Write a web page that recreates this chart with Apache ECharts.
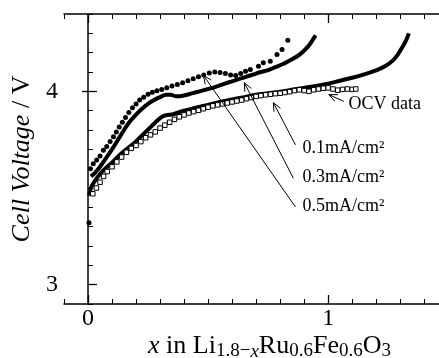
<!DOCTYPE html>
<html>
<head>
<meta charset="utf-8">
<script src="https://cdn.jsdelivr.net/npm/echarts@6/dist/echarts.min.js"></script>
<style>
  html, body { margin: 0; padding: 0; background: #fff; }
  #chart { width: 439px; height: 358px; }
</style>
</head>
<body>
<div id="chart"></div>
<script>
// values: [x in Li(1.8-x)Ru0.6Fe0.6O3, cell voltage / V]
const rate05 = [
  [0.004, 3.32], [0.010, 3.60], [0.022, 3.625], [0.036, 3.645], [0.050, 3.665],
  [0.064, 3.695], [0.078, 3.715], [0.092, 3.74], [0.106, 3.765], [0.118, 3.79],
  [0.130, 3.815], [0.143, 3.84], [0.156, 3.865], [0.170, 3.89], [0.185, 3.915],
  [0.200, 3.935], [0.215, 3.955], [0.232, 3.97], [0.250, 3.985], [0.268, 3.995],
  [0.287, 4.003], [0.307, 4.01], [0.328, 4.018], [0.350, 4.027], [0.372, 4.035],
  [0.394, 4.045], [0.416, 4.055], [0.438, 4.065], [0.460, 4.075], [0.482, 4.085],
  [0.505, 4.095], [0.528, 4.10], [0.550, 4.098], [0.572, 4.092], [0.594, 4.085],
  [0.615, 4.082], [0.636, 4.092], [0.656, 4.104], [0.676, 4.113], [0.710, 4.13],
  [0.730, 4.148], [0.759, 4.156], [0.787, 4.19], [0.808, 4.217], [0.832, 4.264]
];
const rate03 = [
  [0.012, 3.56], [0.03, 3.58], [0.05, 3.61], [0.075, 3.655], [0.10, 3.70],
  [0.125, 3.75], [0.15, 3.80], [0.175, 3.845], [0.20, 3.88], [0.225, 3.91],
  [0.25, 3.935], [0.275, 3.955], [0.30, 3.97], [0.325, 3.982], [0.345, 3.982],
  [0.365, 3.975], [0.39, 3.976], [0.42, 3.985], [0.45, 3.995], [0.48, 4.005],
  [0.51, 4.015], [0.54, 4.027], [0.57, 4.04], [0.60, 4.052], [0.63, 4.064],
  [0.66, 4.076], [0.69, 4.088], [0.72, 4.10], [0.75, 4.11], [0.78, 4.125],
  [0.81, 4.14], [0.84, 4.16], [0.87, 4.18], [0.895, 4.205], [0.915, 4.23],
  [0.93, 4.255], [0.94, 4.275], [0.948, 4.29]
];
const rate01 = [
  [0.005, 3.46], [0.012, 3.50], [0.025, 3.53], [0.045, 3.565], [0.067, 3.595],
  [0.09, 3.62], [0.115, 3.65], [0.14, 3.68], [0.165, 3.705], [0.19, 3.73],
  [0.215, 3.76], [0.24, 3.79], [0.265, 3.82], [0.29, 3.85], [0.31, 3.87],
  [0.33, 3.878], [0.35, 3.88], [0.37, 3.888], [0.40, 3.90], [0.45, 3.915],
  [0.50, 3.93], [0.55, 3.945], [0.60, 3.958], [0.65, 3.97], [0.70, 3.982],
  [0.75, 3.99], [0.80, 3.998], [0.85, 4.008], [0.90, 4.018], [0.95, 4.028],
  [1.00, 4.04], [1.05, 4.055], [1.10, 4.07], [1.15, 4.088], [1.20, 4.108],
  [1.24, 4.132], [1.27, 4.16], [1.29, 4.19], [1.31, 4.23], [1.325, 4.265],
  [1.336, 4.30]
];
const ocv = [
  [0.02, 3.47], [0.035, 3.50], [0.05, 3.53], [0.065, 3.56], [0.08, 3.585],
  [0.10, 3.61], [0.12, 3.635], [0.14, 3.66], [0.16, 3.685], [0.18, 3.705],
  [0.20, 3.72], [0.22, 3.74], [0.24, 3.76], [0.26, 3.775], [0.28, 3.79],
  [0.30, 3.81], [0.32, 3.825], [0.34, 3.84], [0.36, 3.855], [0.38, 3.868],
  [0.40, 3.878], [0.42, 3.888], [0.44, 3.895], [0.46, 3.902], [0.48, 3.91],
  [0.50, 3.918], [0.52, 3.925], [0.54, 3.93], [0.56, 3.935], [0.58, 3.94],
  [0.60, 3.945], [0.62, 3.95], [0.64, 3.955], [0.66, 3.962], [0.68, 3.968],
  [0.70, 3.974], [0.72, 3.978], [0.74, 3.982], [0.76, 3.985], [0.78, 3.988],
  [0.80, 3.99], [0.82, 3.994], [0.84, 3.998], [0.86, 4.004], [0.88, 4.008],
  [0.90, 4.004], [0.92, 4.00], [0.94, 4.008], [0.96, 4.012], [0.98, 4.016],
  [1.00, 4.018], [1.02, 4.012], [1.04, 4.006], [1.06, 4.01], [1.08, 4.012],
  [1.10, 4.01], [1.115, 4.012]
];
const xTickLabels = [0, 1];
const yTickLabels = [3, 4];
const seriesNames = ['0.5mA/cm²', '0.3mA/cm²', '0.1mA/cm²', 'OCV data'];

const FONT = 'Liberation Serif';
const chart = echarts.init(document.getElementById('chart'), null, { renderer: 'canvas' });

const black = { color: '#000', width: 1.5 };
const noLabel = { show: false };

function axisPair(kind, position, min, max, majors, withName) {
  const base = {
    type: 'value', position: position, min: min, max: max,
    splitLine: { show: false }
  };
  const minor = Object.assign({}, base, {
    interval: 0.1,
    axisLine: { show: true, lineStyle: black },
    axisTick: { show: true, inside: true, length: 5, lineStyle: { color: '#000', width: 1 } },
    axisLabel: noLabel
  });
  const major = Object.assign({}, base, {
    axisLine: { show: false },
    axisTick: { show: true, inside: true, length: 9, customValues: majors, lineStyle: { color: '#000', width: 1.3 } },
    axisLabel: noLabel
  });
  if (withName) {
    minor.axisLabel = {
      show: true, customValues: majors, color: '#000',
      fontFamily: FONT, fontSize: 24, margin: kind === 'x' ? 3 : 6
    };
  }
  return [minor, major];
}

const xAxes = [].concat(
  axisPair('x', 'bottom', -0.1, 1.47, xTickLabels, true),
  axisPair('x', 'top', -0.1, 1.47, xTickLabels, false)
);
xAxes[0].name = '{i|x} in Li{s|1.8−}{si|x}Ru{s|0.6}Fe{s|0.6}O{s|3}';
xAxes[0].nameLocation = 'middle';
xAxes[0].nameGap = 27;
xAxes[0].nameMoveOverlap = false;
xAxes[0].nameTextStyle = {
  color: '#000', fontFamily: FONT, fontSize: 26, lineHeight: 30,
  padding: [0, 0, 0, 34],
  rich: {
    i: { fontFamily: FONT, fontSize: 26, fontStyle: 'italic', lineHeight: 30 },
    s: { fontFamily: FONT, fontSize: 19, lineHeight: 16, verticalAlign: 'bottom' },
    si: { fontFamily: FONT, fontSize: 19, fontStyle: 'italic', lineHeight: 16, verticalAlign: 'bottom' }
  }
};

const yAxes = [].concat(
  axisPair('y', 'left', 2.9, 4.4, yTickLabels, true),
  axisPair('y', 'right', 2.9, 4.4, [4], false).slice(1)
);
yAxes[0].name = '{i|Cell Voltage} / V';
yAxes[0].nameLocation = 'middle';
yAxes[0].nameRotate = 90;
yAxes[0].nameGap = 28;
yAxes[0].nameTextStyle = {
  color: '#000', fontFamily: FONT, fontSize: 26,
  rich: { i: { fontFamily: FONT, fontSize: 26, fontStyle: 'italic' } }
};
yAxes[2].axisTick.length = 6;
yAxes[2].axisLine = { show: false };

const option = {
  animation: false,
  backgroundColor: '#fff',
  grid: { left: 64, top: 14, width: 377, height: 290, outerBoundsMode: 'none', containLabel: false },
  xAxis: xAxes,
  yAxis: yAxes,
  series: [
    {
      name: seriesNames[1], type: 'line', data: rate03, smooth: 0.3,
      showSymbol: false, lineStyle: { color: '#000', width: 4 }, z: 2
    },
    {
      name: seriesNames[2], type: 'line', data: rate01, smooth: 0.3,
      showSymbol: false, lineStyle: { color: '#000', width: 4 }, z: 2
    },
    {
      name: seriesNames[0], type: 'scatter', data: rate05, symbol: 'circle',
      symbolSize: 5, itemStyle: { color: '#000', opacity: 1 }, z: 3
    },
    {
      name: seriesNames[3], type: 'scatter', data: ocv, symbol: 'rect',
      symbolSize: 4.5, itemStyle: { color: '#fff', borderColor: '#000', borderWidth: 1, opacity: 1 }, z: 4
    }
  ]
};
chart.setOption(option);

// annotation texts and arrows, anchored in data coordinates
const notes = [
  { text: seriesNames[3], at: [1.085, 3.931], tail: [1.065, 3.948], tip: [1.003, 3.983] },
  { text: seriesNames[2], at: [0.893, 3.707], tail: [0.864, 3.723], tip: [0.772, 3.941] },
  { text: seriesNames[1], at: [0.893, 3.554], tail: [0.855, 3.551], tip: [0.651, 4.044] },
  { text: seriesNames[0], at: [0.893, 3.403], tail: [0.864, 3.402], tip: [0.481, 4.082] }
];

function px(p) { return chart.convertToPixel({ gridIndex: 0 }, p); }

const graphics = [];
notes.forEach(function (n) {
  const a = px(n.at), t0 = px(n.tail), t1 = px(n.tip);
  const dx = t0[0] - t1[0], dy = t0[1] - t1[1];
  const len = Math.hypot(dx, dy);
  const ux = dx / len, uy = dy / len;
  const ang = 24 * Math.PI / 180, hl = 9;
  const w1 = [t1[0] + hl * (ux * Math.cos(ang) - uy * Math.sin(ang)), t1[1] + hl * (ux * Math.sin(ang) + uy * Math.cos(ang))];
  const w2 = [t1[0] + hl * (ux * Math.cos(-ang) - uy * Math.sin(-ang)), t1[1] + hl * (ux * Math.sin(-ang) + uy * Math.cos(-ang))];
  graphics.push({
    type: 'polyline', shape: { points: [t0, t1] }, z: 10,
    style: { stroke: '#000', lineWidth: 1, fill: null }
  });
  graphics.push({
    type: 'polyline', shape: { points: [w1, t1, w2] }, z: 10,
    style: { stroke: '#000', lineWidth: 1, fill: null }
  });
  graphics.push({
    type: 'text', x: a[0], y: a[1], z: 10,
    style: { text: n.text, font: '18px "Liberation Serif"', fill: '#000', verticalAlign: 'middle', align: 'left' }
  });
});
chart.setOption({ graphic: graphics });
</script>
</body>
</html>
